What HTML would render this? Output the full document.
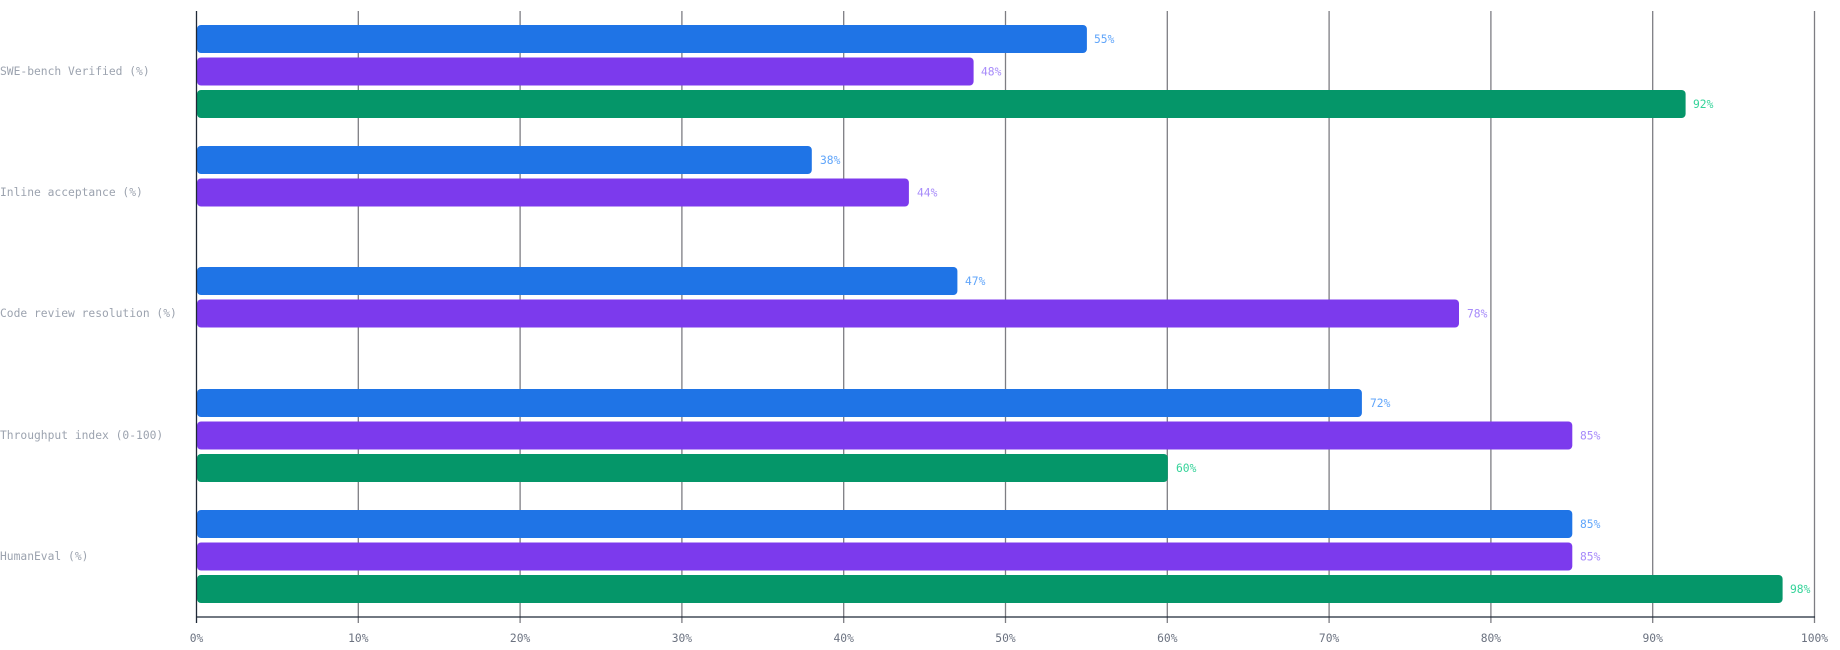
<!DOCTYPE html>
<html><head><meta charset="utf-8"><style>
html,body{margin:0;padding:0;background:#fff;width:1840px;height:650px;overflow:hidden}
text{font-family:"DejaVu Sans Mono","Liberation Mono",monospace}
</style></head><body>
<svg width="1840" height="650" xmlns="http://www.w3.org/2000/svg">
<g stroke="#7d7d83" stroke-width="1.3">
<line x1="358.3" y1="11" x2="358.3" y2="623"/><line x1="520.1" y1="11" x2="520.1" y2="623"/><line x1="681.9" y1="11" x2="681.9" y2="623"/><line x1="843.7" y1="11" x2="843.7" y2="623"/><line x1="1005.5" y1="11" x2="1005.5" y2="623"/><line x1="1167.3" y1="11" x2="1167.3" y2="623"/><line x1="1329.1" y1="11" x2="1329.1" y2="623"/><line x1="1490.9" y1="11" x2="1490.9" y2="623"/><line x1="1652.7" y1="11" x2="1652.7" y2="623"/><line x1="1814.5" y1="11" x2="1814.5" y2="623"/>
</g>
<g font-size="11.3" fill="#6b7280" text-anchor="middle">
<text x="196.5" y="642">0%</text><text x="358.3" y="642">10%</text><text x="520.1" y="642">20%</text><text x="681.9" y="642">30%</text><text x="843.7" y="642">40%</text><text x="1005.5" y="642">50%</text><text x="1167.3" y="642">60%</text><text x="1329.1" y="642">70%</text><text x="1490.9" y="642">80%</text><text x="1652.7" y="642">90%</text><text x="1814.5" y="642">100%</text>
</g>
<g font-size="11.3" fill="#9ca3af">
<text x="0" y="75">SWE-bench Verified (%)</text>
<text x="0" y="196">Inline acceptance (%)</text>
<text x="0" y="317">Code review resolution (%)</text>
<text x="0" y="439">Throughput index (0-100)</text>
<text x="0" y="560">HumanEval (%)</text>
</g>
<g>
<rect x="197" y="25" width="889.9" height="28" rx="4" fill="#1f74e6"/>
<rect x="197" y="57.5" width="776.6" height="28" rx="4" fill="#7c3aed"/>
<rect x="197" y="90" width="1488.6" height="28" rx="4" fill="#059669"/>
<rect x="197" y="146" width="614.8" height="28" rx="4" fill="#1f74e6"/>
<rect x="197" y="178.5" width="711.9" height="28" rx="4" fill="#7c3aed"/>
<rect x="197" y="267" width="760.4" height="28" rx="4" fill="#1f74e6"/>
<rect x="197" y="299.5" width="1262" height="28" rx="4" fill="#7c3aed"/>
<rect x="197" y="389" width="1164.9" height="28" rx="4" fill="#1f74e6"/>
<rect x="197" y="421.5" width="1375.3" height="28" rx="4" fill="#7c3aed"/>
<rect x="197" y="454" width="970.8" height="28" rx="4" fill="#059669"/>
<rect x="197" y="510" width="1375.3" height="28" rx="4" fill="#1f74e6"/>
<rect x="197" y="542.5" width="1375.3" height="28" rx="4" fill="#7c3aed"/>
<rect x="197" y="575" width="1585.6" height="28" rx="4" fill="#059669"/>
</g>
<g font-size="11.3">
<text x="1094" y="43" fill="#60a5fa">55%</text>
<text x="981" y="75.5" fill="#a78bfa">48%</text>
<text x="1693" y="108" fill="#34d399">92%</text>
<text x="820" y="164" fill="#60a5fa">38%</text>
<text x="917" y="196.5" fill="#a78bfa">44%</text>
<text x="965" y="285" fill="#60a5fa">47%</text>
<text x="1467" y="317.5" fill="#a78bfa">78%</text>
<text x="1370" y="407" fill="#60a5fa">72%</text>
<text x="1580" y="439.5" fill="#a78bfa">85%</text>
<text x="1176" y="472" fill="#34d399">60%</text>
<text x="1580" y="528" fill="#60a5fa">85%</text>
<text x="1580" y="560.5" fill="#a78bfa">85%</text>
<text x="1790" y="593" fill="#34d399">98%</text>
</g>
<line x1="196.5" y1="11" x2="196.5" y2="623" stroke="#1f2937" stroke-width="1.3"/>
<line x1="196" y1="617" x2="1815" y2="617" stroke="#1f2937" stroke-width="1.3"/>
</svg>
</body></html>
